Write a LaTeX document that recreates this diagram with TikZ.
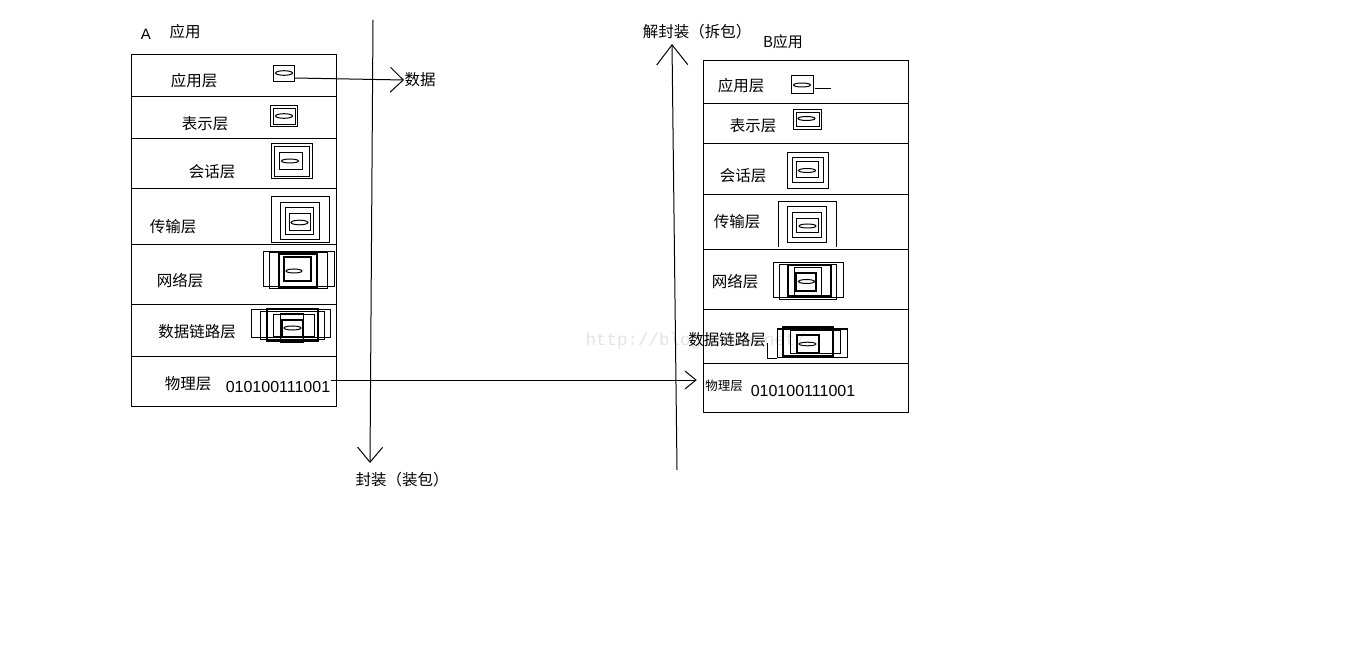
\documentclass[tikz,border=0pt]{standalone}
\usepackage{fontspec}
\setmainfont{Liberation Sans}
\setmonofont{Liberation Mono}
\newfontfamily\cjk{Noto Sans CJK SC}
\usetikzlibrary{arrows.meta}
\tikzset{
  lbl/.style={font=\cjk\fontsize{15.5}{18}\selectfont, inner sep=0pt},
  bits/.style={font=\fontsize{16}{19}\selectfont, inner sep=0pt},
  barb/.style 2 args={-{Straight Barb[length=#1,width=#2]}},
  thick/.style={line width=1.8pt},
}
\begin{document}
\begin{tikzpicture}[x=1pt,y=-1pt,line width=1pt]
\useasboundingbox (0,0) rectangle (1360,660);
\node[font=\ttfamily\fontsize{17.5}{20}\selectfont, text=gray!22, anchor=west, inner sep=0pt] (mark) at (585,341) {http://blog.csdn.net/};
% host A
\node[font=\fontsize{15}{18}\selectfont, inner sep=0pt] (nameA) at (146,34) {A};
\node[lbl] (appNameA) at (185,32) {应用};
\draw (131,55) rectangle (336,406);
\draw (131,97) -- (336,97);
\draw (131,139) -- (336,139);
\draw (131,189) -- (336,189);
\draw (131,245) -- (336,245);
\draw (131,305) -- (336,305);
\draw (131,356) -- (336,356);
\node[lbl] (appA) at (194,81) {应用层};
\node[lbl] (presA) at (205,124) {表示层};
\node[lbl] (sessA) at (212,172) {会话层};
\node[lbl] (tranA) at (173,227) {传输层};
\node[lbl] (netA) at (180,281) {网络层};
\node[lbl] (linkA) at (197,332) {数据链路层};
\node[lbl] (physA) at (188,384) {物理层};
\node[bits] (bitsA) at (278,387) {010100111001};
% packets in A
\draw (273,66) rectangle (294,82);
\draw (284,73) ellipse (8.5 and 2.3);
\draw (270,106) rectangle (297,127);
\draw (273,109) rectangle (295,125);
\draw (284,116) ellipse (8.5 and 2.3);
\draw (271,144) rectangle (312,179);
\draw (274,147) rectangle (309,177);
\draw (279,153) rectangle (302,170);
\draw (290,161) ellipse (8.5 and 2);
\draw (271,197) rectangle (329,243);
\draw (280,203) rectangle (319,240);
\draw (285,208) rectangle (313,235);
\draw (289,214) rectangle (310,231);
\draw (299.5,222.5) ellipse (8.5 and 2.3);
\draw (263,252) rectangle (334,287);
\draw (269,253) rectangle (327,289);
\draw[thick] (279,254) rectangle (317,287);
\draw[thick] (284,257) rectangle (311,281);
\draw (294,271) ellipse (8 and 2);
\draw (251,310) rectangle (330,337);
\draw (260,312) rectangle (324,339);
\draw[thick] (267,309) rectangle (318,341);
\draw (273,315) rectangle (314,336);
\draw (280,314) rectangle (303,342);
\draw[thick] (282,320) rectangle (303,337);
\draw (292.5,328) ellipse (8.5 and 2);
\coordinate (iconA) at (294,78);
\node[lbl] (data) at (420,80) {数据};
\draw[barb={13pt}{25pt}] (iconA) -- (data.west);
% encapsulation
\coordinate (encTop) at (373,20);
\coordinate (encEnd) at (370,463);
\draw[barb={15pt}{25pt}] (encTop) -- (encEnd);
\node[lbl] (enc) at (402,480) {封装（装包）};
% host B
\node[lbl, font=\cjk\fontsize{15}{18}\selectfont] (nameB) at (783,42) {B应用};
\draw (703,61) rectangle (908,412);
\draw (703,104) -- (908,104);
\draw (703,144) -- (908,144);
\draw (703,195) -- (908,195);
\draw (703,250) -- (908,250);
\draw (703,310) -- (908,310);
\draw (703,363) -- (908,363);
\node[lbl] (appB) at (741,86) {应用层};
\node[lbl] (presB) at (753,126) {表示层};
\node[lbl] (sessB) at (743,176) {会话层};
\node[lbl] (tranB) at (737,222) {传输层};
\node[lbl] (netB) at (735,282) {网络层};
\node[lbl] (linkB) at (727,340) {数据链路层};
\node[lbl, font=\cjk\fontsize{12.5}{15}\selectfont] (physB) at (724,386) {物理层};
\node[bits] (bitsB) at (803,391) {010100111001};
% packets in B
\draw (791,76) rectangle (813,94);
\draw (802,85) ellipse (8.5 and 2);
\draw (815,89) -- (831,89);
\draw (793,110) rectangle (821,130);
\draw (796,113) rectangle (819,127);
\draw (806.5,118.5) ellipse (8.5 and 2);
\draw (787,153) rectangle (828,189);
\draw (792,158) rectangle (823,183);
\draw (796,162) rectangle (818,178);
\draw (807,170.5) ellipse (8.5 and 2);
\draw (778,247) -- (778,202) -- (836,202) -- (836,247);
\draw (787,207) rectangle (826,243);
\draw (792,213) rectangle (821,238);
\draw (796,219) rectangle (818,233);
\draw (807.5,226) ellipse (8.5 and 2);
\draw (773,263) rectangle (843,298);
\draw (779,265) rectangle (836,300);
\draw[thick] (788,265) rectangle (831,296);
\draw (794,268) rectangle (821,297);
\draw[thick] (796,273) rectangle (816,291);
\draw (806.5,281.5) ellipse (8 and 2);
\draw (777,329) rectangle (847,357);
\draw[thick] (783,327) rectangle (833,356);
\draw (790,330) rectangle (840,353);
\draw[thick] (797,335) rectangle (819,353);
\draw (807.5,344) ellipse (8.5 and 1.8);
\draw (767,343) -- (767,358) -- (777,358);
% bits on the wire
\draw[barb={11pt}{18pt}, shorten >=8pt] (bitsA.east |- 0,380) -- (physB.west |- 0,380);
% decapsulation
\coordinate (decBot) at (677,470);
\coordinate (decEnd) at (672,44);
\draw[barb={20pt}{31pt}] (decBot) -- (decEnd);
\node[lbl] (dec) at (697,32) {解封装（拆包）};
\end{tikzpicture}
\end{document}
